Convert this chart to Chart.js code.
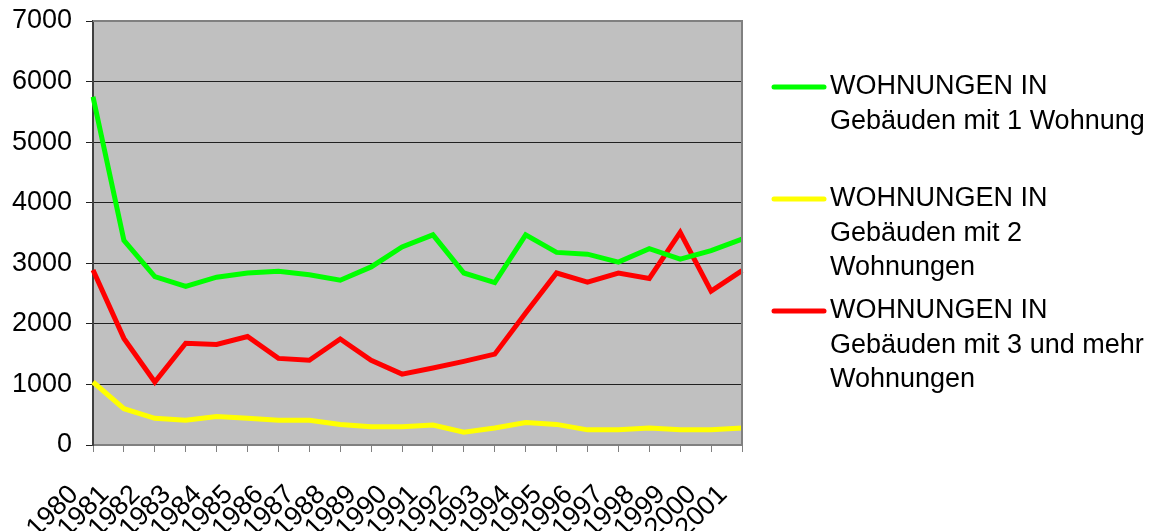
<!DOCTYPE html>
<html>
<head>
<meta charset="utf-8">
<script src="https://cdn.jsdelivr.net/npm/chart.js@4"></script>
<style>
  html, body { margin: 0; padding: 0; background: #ffffff; }
  #wrap { position: relative; width: 1168px; height: 531px; }
</style>
</head>
<body>
<div id="wrap"><canvas id="c" width="1168" height="531"></canvas></div>
<script>
const years = ["1980","1981","1982","1983","1984","1985","1986","1987","1988","1989","1990","1991","1992","1993","1994","1995","1996","1997","1998","1999","2000","2001"];
const yTicks = [0, 1000, 2000, 3000, 4000, 5000, 6000, 7000];

const seriesNames = [
  "WOHNUNGEN IN Gebäuden mit 1 Wohnung",
  "WOHNUNGEN IN Gebäuden mit 2 Wohnungen",
  "WOHNUNGEN IN Gebäuden mit 3 und mehr Wohnungen"
];
const legendLines = [
  ["WOHNUNGEN IN", "Gebäuden mit 1 Wohnung"],
  ["WOHNUNGEN IN", "Gebäuden mit 2", "Wohnungen"],
  ["WOHNUNGEN IN", "Gebäuden mit 3 und mehr", "Wohnungen"]
];

const oneFlat   = [5750, 3380, 2780, 2620, 2770, 2840, 2870, 2810, 2720, 2940, 3270, 3470, 2840, 2680, 3470, 3180, 3150, 3020, 3240, 3070, 3210, 3400];
const twoFlats  = [1040, 600, 440, 410, 470, 440, 410, 410, 340, 300, 300, 330, 210, 280, 370, 340, 250, 250, 280, 250, 250, 280];
const threePlus = [2890, 1760, 1040, 1680, 1660, 1790, 1430, 1400, 1750, 1400, 1170, 1270, 1380, 1500, 2180, 2840, 2690, 2840, 2750, 3510, 2540, 2880];

const colors = ["#00ff00", "#ffff00", "#ff0000"];
const FONT = "'Liberation Sans', Arial, sans-serif";

const plotBg = {
  id: 'plotBg',
  beforeDraw(chart) {
    const a = chart.chartArea, ctx = chart.ctx;
    ctx.save();
    ctx.fillStyle = '#c0c0c0';
    ctx.fillRect(a.left, a.top, a.right - a.left, a.bottom - a.top);
    ctx.restore();
  },
  afterDatasetsDraw(chart) {
    const a = chart.chartArea, ctx = chart.ctx;
    ctx.save();
    ctx.strokeStyle = '#808080';
    ctx.lineWidth = 2;
    ctx.beginPath();
    ctx.moveTo(a.left, a.top);
    ctx.lineTo(a.right, a.top);
    ctx.lineTo(a.right, a.bottom);
    ctx.stroke();
    ctx.restore();
  }
};

const sideLegend = {
  id: 'sideLegend',
  afterDraw(chart) {
    const ctx = chart.ctx;
    ctx.save();
    ctx.font = "27px " + FONT;
    ctx.textBaseline = 'middle';
    ctx.textAlign = 'left';
    chart.data.datasets.forEach((ds, i) => {
      const y0 = 87 + i * 112;
      ctx.strokeStyle = ds.borderColor;
      ctx.lineWidth = 5;
      ctx.lineCap = 'round';
      ctx.beginPath();
      ctx.moveTo(774, y0);
      ctx.lineTo(824, y0);
      ctx.stroke();
      ctx.fillStyle = '#000000';
      legendLines[i].forEach((t, j) => ctx.fillText(t, 830, y0 + j * 34.5));
    });
    ctx.restore();
  }
};

new Chart(document.getElementById('c'), {
  type: 'line',
  data: {
    labels: years,
    datasets: [
      { label: seriesNames[0], data: oneFlat,   borderColor: colors[0], backgroundColor: colors[0] },
      { label: seriesNames[1], data: twoFlats,  borderColor: colors[1], backgroundColor: colors[1] },
      { label: seriesNames[2], data: threePlus, borderColor: colors[2], backgroundColor: colors[2] }
    ]
  },
  options: {
    responsive: false,
    animation: false,
    devicePixelRatio: 1,
    layout: { padding: { left: 0, top: 21, right: 426, bottom: 0 } },
    elements: {
      line: { borderWidth: 5, tension: 0, borderJoinStyle: 'miter' },
      point: { radius: 0, hoverRadius: 0 }
    },
    plugins: { legend: { display: false }, tooltip: { enabled: false } },
    scales: {
      x: {
        offset: false,
        afterFit(s) { s.height = 86; s.paddingLeft = 0; s.paddingRight = 0; s.paddingTop = 0; s.paddingBottom = 0; },
        grid: { drawOnChartArea: false, drawTicks: true, tickLength: 7, color: '#808080', lineWidth: 1 },
        border: { display: true, color: '#808080', width: 2 },
        ticks: {
          autoSkip: false, minRotation: 45, maxRotation: 45,
          font: { family: FONT, size: 27 }, color: '#000000',
          padding: 27, labelOffset: -19
        }
      },
      y: {
        min: 0, max: 7000,
        afterFit(s) { s.width = 93; s.paddingTop = 0; s.paddingBottom = 0; s.paddingLeft = 0; s.paddingRight = 0; },
        afterBuildTicks(s) { s.ticks = yTicks.map(v => ({ value: v })); },
        grid: { color: '#202020', lineWidth: 1, drawTicks: true, tickLength: 7 },
        border: { display: true, color: '#404040', width: 2 },
        ticks: { font: { family: FONT, size: 27 }, color: '#000000', padding: 14, callback: v => String(v) }
      }
    }
  },
  plugins: [plotBg, sideLegend]
});
</script>
</body>
</html>
